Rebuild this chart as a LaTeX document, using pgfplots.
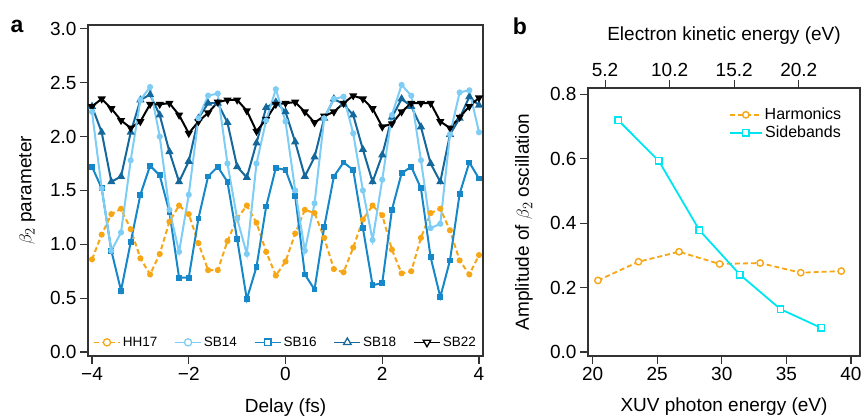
\documentclass[border=0pt]{standalone}
\usepackage{pgfplots}
\pgfplotsset{compat=1.18}
\usepackage{pgfplotstable}
\usepackage{fontspec}
\setmainfont{Liberation Sans}

\definecolor{hhorange}{RGB}{247,166,20}
\definecolor{sbA}{RGB}{125,205,245}
\definecolor{sbB}{RGB}{22,135,200}
\definecolor{sbC}{RGB}{20,104,155}
\definecolor{sbcyan}{RGB}{0,230,240}

% delay scan, beta_2 per line
\pgfplotstableread{
t    hh   sb14 sb16 sb18 sb22
-4.0 0.86 2.23 1.72 2.28 2.28
-3.8 1.09 1.52 1.52 2.04 2.35
-3.6 1.28 0.94 0.94 1.58 2.26
-3.4 1.33 1.11 0.57 1.63 2.15
-3.2 1.14 1.78 1.02 2.04 2.08
-3.0 0.87 2.34 1.46 2.34 2.14
-2.8 0.72 2.46 1.73 2.39 2.30
-2.6 0.91 2.00 1.64 2.20 2.30
-2.4 1.21 1.32 1.30 1.86 2.31
-2.2 1.36 0.93 0.69 1.58 2.20
-2.0 1.28 1.46 0.69 1.77 2.03
-1.8 1.01 2.17 1.24 2.17 2.14
-1.6 0.76 2.38 1.63 2.31 2.22
-1.4 0.76 2.40 1.72 2.31 2.32
-1.2 1.03 1.75 1.58 2.13 2.34
-1.0 1.24 1.24 1.05 1.72 2.34
-0.8 1.36 0.91 0.49 1.62 2.24
-0.6 1.20 1.75 0.79 1.94 2.05
-0.4 0.93 2.15 1.35 2.27 2.16
-0.2 0.71 2.44 1.71 2.32 2.30
0.0  0.84 2.14 1.69 2.23 2.31
0.2  1.10 1.50 1.45 1.95 2.32
0.4  1.32 0.94 0.72 1.63 2.23
0.6  1.29 1.38 0.58 1.81 2.13
0.8  1.06 2.17 1.16 2.17 2.19
1.0  0.77 2.35 1.63 2.35 2.23
1.2  0.74 2.37 1.76 2.30 2.31
1.4  0.97 2.03 1.69 2.20 2.38
1.6  1.23 1.50 1.15 1.88 2.35
1.8  1.36 1.04 0.62 1.58 2.26
2.0  1.27 1.60 0.64 1.83 2.09
2.2  0.95 2.20 1.32 2.18 2.12
2.4  0.73 2.48 1.66 2.35 2.23
2.6  0.75 2.38 1.72 2.28 2.31
2.8  1.06 1.78 1.52 2.09 2.31
3.0  1.29 1.15 0.88 1.75 2.31
3.2  1.33 1.19 0.51 1.58 2.14
3.4  1.13 2.02 0.85 2.02 2.08
3.6  0.85 2.41 1.47 2.17 2.18
3.8  0.72 2.43 1.76 2.37 2.28
4.0  0.90 2.04 1.61 2.29 2.36
}\delaydata

\pgfplotsset{
  panel/.style={
    scale only axis,
    anchor=south west,
    axis line style={line width=1.1pt, black!80},
    tick style={line width=1.1pt, black!80},
    tick align=outside,
    xtick pos=bottom, ytick pos=left,
    major tick length=8pt,
    ticklabel style={font=\fontsize{19}{19}\selectfont},
    label style={font=\fontsize{19}{19}\selectfont},
    /pgf/number format/assume math mode=true,
  },
}

\begin{document}
\begin{tikzpicture}[x=1pt,y=1pt]
\useasboundingbox (0,0) rectangle (861,419);
\node[font=\fontsize{23}{23}\selectfont\bfseries] at (17,393) {a};
\node[font=\fontsize{23}{23}\selectfont\bfseries] at (520,393) {b};

% panel a
\begin{axis}[panel,
  at={(88pt,63pt)}, width=395pt, height=331pt,
  xmin=-4.083, xmax=4.083, ymin=-0.037, ymax=3.036,
  xtick={-4,-2,0,2,4}, xticklabels={−4,−2,0,2,4},
  ytick={0,0.5,1,1.5,2,2.5,3},
  yticklabel style={/pgf/number format/.cd, fixed, fixed zerofill, precision=1},
  xlabel={Delay (fs)}, ylabel={$\beta_2$ parameter},
  xlabel style={at={(axis description cs:0.5,-0.157)}, anchor=center},
  ylabel style={at={(axis description cs:-0.154,0.5)}, anchor=center},
  legend columns=5,
  legend style={at={(0.005,0.012)}, anchor=south west, draw=none, fill=none,
    font=\fontsize{13.5}{13.5}\selectfont,
    /tikz/every even column/.append style={column sep=15pt}},
  legend image code/.code={\draw[mark repeat=2,mark phase=2,#1] plot coordinates {(0pt,0pt)(13pt,0pt)(26pt,0pt)};},
]
\addlegendimage{hhorange, line width=1.6pt, dash pattern=on 5pt off 3pt, mark=*, mark size=3.6pt, mark options={solid, fill=white, line width=1.3pt}}
\addlegendentry{HH17}
\addlegendimage{sbA, line width=1.6pt, mark=*, mark size=3.6pt, mark options={fill=white, line width=1.3pt}}
\addlegendentry{SB14}
\addlegendimage{sbB, line width=1.6pt, mark=square*, mark size=3.4pt, mark options={fill=white, line width=1.3pt}}
\addlegendentry{SB16}
\addlegendimage{sbC, line width=1.6pt, mark=triangle*, mark size=4.4pt, mark options={fill=white, line width=1.3pt}}
\addlegendentry{SB18}
\addlegendimage{black, line width=1.6pt, mark=triangle*, mark size=4.4pt, mark options={fill=white, line width=1.3pt, rotate=180}}
\addlegendentry{SB22}

\addplot[forget plot, hhorange, line width=2pt, dash pattern=on 5pt off 3pt, mark=*, mark size=2pt, mark options={solid}] table[x=t, y=hh] {\delaydata};
\addplot[forget plot, sbC, line width=2pt, mark=triangle*, mark size=2.8pt] table[x=t, y=sb18] {\delaydata};
\addplot[forget plot, black, line width=2pt, mark=triangle*, mark size=2.8pt, mark options={rotate=180}] table[x=t, y=sb22] {\delaydata};
\addplot[forget plot, sbB, line width=2pt, mark=square*, mark size=1.9pt] table[x=t, y=sb16] {\delaydata};
\addplot[forget plot, sbA, line width=2pt, mark=*, mark size=2pt] table[x=t, y=sb14] {\delaydata};
\end{axis}

% panel b, top scale: kinetic energy = photon energy - 15.76 eV
\begin{axis}[panel,
  at={(588pt,63pt)}, width=272pt, height=268pt,
  xmin=19.64, xmax=40.7, ymin=-0.0124, ymax=0.819,
  axis x line*=top, axis y line=none,
  xtick pos=top,
  xtick={20.96,25.96,30.96,35.96}, xticklabels={5.2,10.2,15.2,20.2},
  xlabel={Electron kinetic energy (eV)},
  xlabel style={at={(axis description cs:0.5,1.194)}, anchor=center},
]
\end{axis}

\begin{axis}[panel,
  at={(588pt,63pt)}, width=272pt, height=268pt,
  xmin=19.64, xmax=40.7, ymin=-0.0124, ymax=0.819,
  xtick={20,25,30,35,40},
  ytick={0,0.2,0.4,0.6,0.8},
  yticklabel style={/pgf/number format/.cd, fixed, fixed zerofill, precision=1},
  xlabel={XUV photon energy (eV)}, ylabel={Amplitude of $\beta_2$ oscillation},
  xlabel style={at={(axis description cs:0.5,-0.19)}, anchor=center},
  ylabel style={at={(axis description cs:-0.235,0.5)}, anchor=center},
  legend style={at={(0.95,0.94)}, anchor=north east, draw=none, fill=none,
    font=\fontsize{16}{16}\selectfont, row sep=1pt},
  legend image code/.code={\draw[mark repeat=2,mark phase=2,#1] plot coordinates {(0pt,0pt)(16pt,0pt)(32pt,0pt)};},
]
\addplot[hhorange, line width=1.8pt, dash pattern=on 5pt off 3pt, mark=*, mark size=3.2pt, mark options={solid, fill=white, line width=1.4pt}]
  coordinates {(20.41,0.222)(23.55,0.280)(26.69,0.311)(29.83,0.273)(32.97,0.276)(36.11,0.246)(39.25,0.251)};
\addlegendentry{Harmonics}
\addplot[sbcyan, line width=1.8pt, mark=square*, mark size=3.2pt, mark options={fill=white, line width=1.4pt}]
  coordinates {(21.98,0.719)(25.12,0.593)(28.26,0.378)(31.40,0.240)(34.54,0.133)(37.68,0.075)};
\addlegendentry{Sidebands}
\end{axis}
\end{tikzpicture}
\end{document}
